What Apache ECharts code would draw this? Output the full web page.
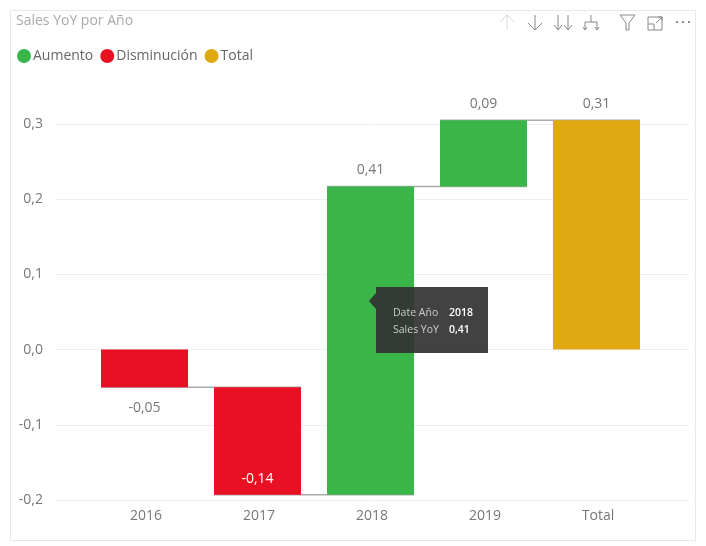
<!DOCTYPE html>
<html>
<head>
<meta charset="utf-8">
<title>Sales YoY por Año</title>
<style>
html, body { margin: 0; padding: 0; background: #fff; }
#main { width: 706px; height: 546px; }
</style>
<script src="https://cdn.jsdelivr.net/npm/echarts@6/dist/echarts.min.js"></script>
</head>
<body>
<div id="main"></div>
<script>
// datos
var categories = ['2016', '2017', '2018', '2019', 'Total'];
var barStart = [0, -0.05, -0.193, 0.217, 0];
var barEnd = [-0.05, -0.193, 0.217, 0.305, 0.305];
var labelValues = [-0.05, -0.14, 0.41, 0.09, 0.31];
var barKind = ['Disminución', 'Disminución', 'Aumento', 'Aumento', 'Total'];
var legendNames = ['Aumento', 'Disminución', 'Total'];
var yTicks = { min: -0.2, max: 0.3, interval: 0.1 };
var tipRows = [['Date Año', '2018'], ['Sales YoY', '0,41']];

var colors = { 'Aumento': '#3AB54A', 'Disminución': '#E81123', 'Total': '#E1A911' };
var font = '"Open Sans", "Noto Sans", sans-serif';
var barRatio = 0.77;

function comma(v, digits) {
	return v.toFixed(digits).replace('.', ',');
}

// datos de cada serie: [indice, inicio, fin, etiqueta]
function kindData(name) {
	var out = [];
	categories.forEach(function(c, i) {
		if (barKind[i] === name) {
			out.push([i, barStart[i], barEnd[i], labelValues[i]]);
		}
	});
	return out;
}

function renderBar(params, api) {
	var i = api.value(0);
	var a = api.coord([i, api.value(1)]);
	var b = api.coord([i, api.value(2)]);
	var w = api.size([1, 0])[0] * barRatio;
	var top = Math.min(a[1], b[1]);
	var bottom = Math.max(a[1], b[1]);
	var gridBottom = params.coordSys.y + params.coordSys.height;
	var down = api.value(2) < api.value(1);
	var inside = down && bottom + 30 > gridBottom;
	var textY = down ? (inside ? bottom - 16 : bottom + 21) : top - 16;
	return {
		type: 'group',
		children: [{
			type: 'rect',
			shape: { x: a[0] - w / 2, y: top, width: w, height: bottom - top },
			style: { fill: api.visual('color') }
		}, {
			type: 'text',
			style: {
				text: comma(api.value(3), 2),
				x: a[0],
				y: textY,
				align: 'center',
				verticalAlign: 'middle',
				font: '14px ' + font,
				fill: inside ? '#fff' : '#777'
			}
		}]
	};
}

// lineas finas que unen una barra con la siguiente
function renderLink(params, api) {
	var i = api.value(0);
	var w = api.size([1, 0])[0] * barRatio;
	var a = api.coord([i, api.value(1)]);
	var b = api.coord([i + 1, api.value(1)]);
	return {
		type: 'line',
		shape: { x1: a[0] - w / 2, y1: a[1], x2: b[0] + w / 2, y2: b[1] },
		style: { stroke: '#aaa', lineWidth: 1.5 }
	};
}

var linkData = [];
for (var i = 0; i < categories.length - 1; i++) {
	linkData.push([i, barEnd[i]]);
}

var series = [{
	name: 'link',
	type: 'custom',
	xAxisIndex: 0,
	yAxisIndex: 0,
	renderItem: renderLink,
	data: linkData,
	encode: { x: 0, y: 1 },
	z: 2,
	silent: true
}];
legendNames.forEach(function(name) {
	series.push({
		name: name,
		type: 'custom',
		xAxisIndex: 0,
		yAxisIndex: 0,
		renderItem: renderBar,
		itemStyle: { color: colors[name] },
		data: kindData(name),
		encode: { x: 0, y: [1, 2] },
		z: 3
	});
});

// iconos de la barra superior, cada uno es una lista de trazos
function icon(strokes, x, y, color) {
	return {
		type: 'group',
		x: x,
		y: y,
		z: 10,
		children: strokes.map(function(points) {
			return {
				type: 'polyline',
				shape: { points: points },
				style: { fill: null, stroke: color, lineWidth: 1 },
				z: 10
			};
		})
	};
}

var graphics = [
	{ type: 'rect', shape: { x: 10.5, y: 10.5, width: 685, height: 530 }, style: { fill: null, stroke: '#e8e8e8', lineWidth: 1 }, z: 0 },
	{ type: 'text', x: 16, y: 21, style: { text: 'Sales YoY por Año', font: '14px ' + font, fill: '#aaa', verticalAlign: 'middle' }, z: 10 },
	icon([[[0, 7], [7, 0], [14, 7]], [[7, 0], [7, 15]]], 500, 15, '#d8d8d8'),
	icon([[[0, 8], [7, 15], [14, 8]], [[7, 0], [7, 15]]], 528, 15, '#888'),
	icon([[[0, 10], [4, 15], [8, 10]], [[4, 0], [4, 15]], [[10, 10], [14, 15], [18, 10]], [[14, 0], [14, 15]]], 554, 15, '#888'),
	icon([[[8, 0], [8, 7]], [[2, 15], [2, 7], [14, 7], [14, 15]], [[0, 12], [2, 15], [4, 12]], [[12, 12], [14, 15], [16, 12]]], 583, 15, '#888'),
	icon([[[0, 0], [15, 0], [9, 8], [9, 15], [6, 15], [6, 8], [0, 0]]], 620, 15, '#888'),
	icon([[[0, 2], [14, 2], [14, 15], [0, 15], [0, 2]], [[0, 9], [6, 9], [6, 15]], [[8, 8], [14, 2]], [[10, 2], [14, 2], [14, 6]]], 648, 15, '#888'),
	{ type: 'circle', shape: { cx: 677, cy: 22, r: 1 }, style: { fill: '#666' }, z: 10 },
	{ type: 'circle', shape: { cx: 683, cy: 22, r: 1 }, style: { fill: '#666' }, z: 10 },
	{ type: 'circle', shape: { cx: 689, cy: 22, r: 1 }, style: { fill: '#666' }, z: 10 },
	// tooltip fijo sobre 2018
	{ type: 'polygon', shape: { points: [[369, 301], [376, 293], [376, 309]] }, style: { fill: 'rgba(50,50,50,0.92)' }, z: 20 },
	{ type: 'rect', shape: { x: 376, y: 287, width: 112, height: 66 }, style: { fill: 'rgba(50,50,50,0.92)' }, z: 20 }
];
tipRows.forEach(function(row, r) {
	graphics.push({ type: 'text', x: 393, y: 313 + r * 17, style: { text: row[0], font: '10.5px ' + font, fill: '#ccc', verticalAlign: 'middle' }, z: 21 });
	graphics.push({ type: 'text', x: 449, y: 313 + r * 17, style: { text: row[1], font: '600 10.5px ' + font, fill: '#fff', verticalAlign: 'middle' }, z: 21 });
});

var chart = echarts.init(document.getElementById('main'));
chart.setOption({
	animation: false,
	textStyle: { fontFamily: font },
	legend: {
		data: legendNames,
		left: 12,
		top: 44,
		icon: 'circle',
		itemWidth: 14,
		itemHeight: 14,
		itemGap: 7,
		selectedMode: false,
		textStyle: { fontSize: 14, color: '#666', padding: [2, 0, 0, -3] }
	},
	grid: [
		// barras
		{ left: 88, right: 53, top: 124, bottom: 46 },
		// lineas de fondo, mas anchas que las barras
		{ left: 56, right: 17, top: 124, bottom: 46 }
	],
	xAxis: [{
		type: 'category',
		gridIndex: 0,
		data: categories,
		axisLine: { show: false },
		axisTick: { show: false },
		axisLabel: { fontSize: 14, color: '#777', margin: 9, padding: [0, 0, 0, 3] }
	}, {
		type: 'value',
		gridIndex: 1,
		show: false
	}],
	yAxis: [{
		type: 'value',
		gridIndex: 0,
		min: yTicks.min,
		max: yTicks.max,
		interval: yTicks.interval,
		show: false
	}, {
		type: 'value',
		gridIndex: 1,
		min: yTicks.min,
		max: yTicks.max,
		interval: yTicks.interval,
		axisLine: { show: false },
		axisTick: { show: false },
		splitLine: { lineStyle: { color: '#eee', width: 1 } },
		axisLabel: {
			fontSize: 14,
			color: '#777',
			margin: 13,
			padding: [2, 0, 0, 0],
			formatter: function(v) { return comma(v, 1); }
		}
	}],
	series: series,
	graphic: graphics
});
</script>
</body>
</html>
